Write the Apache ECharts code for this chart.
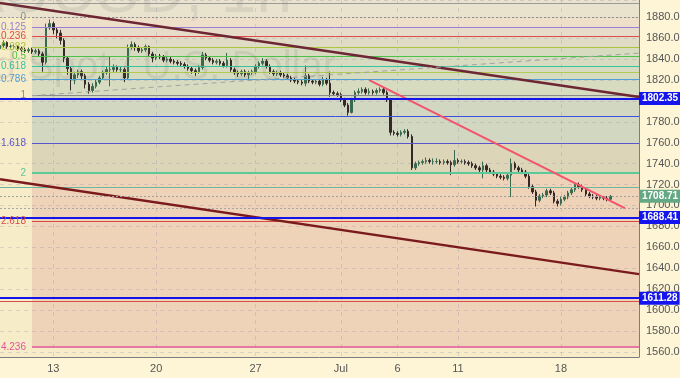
<!DOCTYPE html>
<html>
<head>
<meta charset="utf-8">
<script src="https://cdn.jsdelivr.net/npm/echarts@6/dist/echarts.min.js"></script>
<style>
  html, body { margin: 0; padding: 0; background: #fdf5d6; }
  #chart { width: 680px; height: 378px; }
</style>
</head>
<body>
<div id="chart"></div>
<script>
// XAUUSD, 4h bars (price)
const firstOpen = 1850;
const closes = [
  1853, 1856, 1852, 1852, 1852, 1850, 1849, 1848, 1849, 1847,
  1848, 1845, 1837, 1870, 1874, 1868, 1865, 1858, 1841, 1831,
  1820, 1825, 1828, 1824, 1816, 1810, 1814, 1818, 1822, 1827,
  1830, 1830, 1832, 1830, 1830, 1822, 1851, 1854, 1851, 1848,
  1849, 1852, 1845, 1841, 1843, 1842, 1839, 1840, 1838, 1837,
  1836, 1835, 1833, 1831, 1829, 1828, 1832, 1844, 1841, 1839,
  1837, 1838, 1836, 1834, 1839, 1830, 1827, 1826, 1828, 1825,
  1827, 1828, 1833, 1836, 1838, 1833, 1828, 1826, 1827, 1825,
  1824, 1822, 1820, 1819, 1818, 1817, 1824, 1819, 1818, 1819,
  1816, 1820, 1817, 1808, 1807, 1806, 1801, 1796, 1789, 1801,
  1808, 1809, 1811, 1808, 1809, 1808, 1810, 1811, 1808, 1801,
  1770, 1769, 1768, 1770, 1771, 1766, 1736, 1740, 1741, 1742,
  1743, 1742, 1742, 1742, 1741, 1742, 1741, 1739, 1743, 1742,
  1742, 1741, 1740, 1738, 1736, 1734, 1738, 1734, 1732, 1730,
  1728, 1727, 1726, 1729, 1740, 1736, 1734, 1732, 1728, 1718,
  1713, 1705, 1709, 1710, 1714, 1712, 1704, 1702, 1706, 1708,
  1712, 1715, 1720, 1718, 1715, 1711, 1709, 1708, 1707, 1708,
  1707, 1706, 1708.71
];
const highs = [
  1856, 1858, 1857, 1854, 1854, 1853, 1852, 1851, 1851, 1851,
  1850, 1850, 1847, 1874, 1878, 1876, 1870, 1868, 1860, 1843,
  1833, 1828, 1830, 1830, 1826, 1818, 1817, 1820, 1824, 1829,
  1833, 1843, 1835, 1834, 1833, 1832, 1854, 1857, 1856, 1853,
  1851, 1854, 1853, 1847, 1845, 1845, 1844, 1842, 1842, 1840,
  1839, 1838, 1837, 1835, 1833, 1831, 1834, 1847, 1846, 1843,
  1841, 1840, 1840, 1838, 1846, 1841, 1832, 1829, 1830, 1830,
  1829, 1830, 1835, 1838, 1841, 1840, 1835, 1830, 1829, 1829,
  1827, 1826, 1824, 1822, 1821, 1820, 1834, 1826, 1821, 1821,
  1821, 1823, 1822, 1828, 1810, 1809, 1808, 1803, 1798, 1803,
  1810, 1812, 1813, 1813, 1812, 1811, 1812, 1813, 1813, 1810,
  1803, 1772, 1771, 1772, 1773, 1773, 1768, 1742, 1743, 1744,
  1746, 1745, 1745, 1745, 1744, 1744, 1744, 1743, 1753, 1745,
  1744, 1744, 1743, 1742, 1740, 1738, 1742, 1740, 1736, 1734,
  1732, 1730, 1729, 1732, 1745, 1742, 1738, 1736, 1734, 1730,
  1720, 1715, 1711, 1712, 1716, 1716, 1714, 1706, 1708, 1710,
  1714, 1717, 1722, 1722, 1720, 1717, 1713, 1711, 1710, 1710,
  1709, 1709, 1710
];
const lows = [
  1848, 1851, 1850, 1850, 1850, 1848, 1847, 1846, 1846, 1845,
  1845, 1843, 1828, 1835, 1868, 1864, 1860, 1854, 1837, 1825,
  1810, 1816, 1822, 1821, 1812, 1807, 1808, 1812, 1816, 1820,
  1825, 1814, 1827, 1828, 1827, 1818, 1820, 1849, 1848, 1846,
  1846, 1847, 1843, 1837, 1839, 1840, 1837, 1837, 1836, 1835,
  1834, 1833, 1831, 1829, 1826, 1824, 1826, 1830, 1839, 1837,
  1835, 1835, 1834, 1832, 1832, 1828, 1825, 1823, 1824, 1823,
  1820, 1825, 1826, 1831, 1834, 1831, 1826, 1824, 1824, 1823,
  1822, 1820, 1818, 1817, 1816, 1815, 1814, 1817, 1816, 1816,
  1814, 1814, 1815, 1804, 1805, 1804, 1799, 1794, 1786, 1788,
  1799, 1806, 1807, 1806, 1806, 1806, 1806, 1808, 1806, 1799,
  1767, 1767, 1766, 1766, 1768, 1764, 1734, 1734, 1738, 1739,
  1740, 1740, 1739, 1740, 1739, 1739, 1739, 1729, 1737, 1740,
  1740, 1739, 1738, 1736, 1734, 1732, 1726, 1732, 1730, 1728,
  1726, 1725, 1724, 1724, 1708, 1734, 1732, 1730, 1726, 1716,
  1711, 1699, 1703, 1707, 1708, 1710, 1702, 1699, 1700, 1704,
  1706, 1710, 1713, 1716, 1713, 1709, 1707, 1706, 1705, 1705,
  1705, 1704, 1705
];
// continuous market: each bar opens at the previous close
const opens = [firstOpen].concat(closes.slice(0, -1));

// x axis: bar slots and the date labels that sit on them
const slotCount = 181;
const dateTicks = { 15: '13', 44: '20', 72: '27', 96: 'Jul', 112: '6', 129: '11', 158: '18' };

// fibonacci retracement drawn from bar 9
const fibStart = 9;
const fibLabels = ['0', '0.125', '0.236', '0.382', '0.5', '0.618', '', '0.786', '1', '', '1.618', '2', '2.618', '4.236'];
const fibPrices = [1880.0, 1870.2, 1862.1, 1851.1, 1842.5, 1833.6, 1827.4, 1821.0, 1805.0, 1785.3, 1759.6, 1731.2, 1685.2, 1564.8];

// horizontal lines across the whole chart
const hLinePrices = [1893.9, 1880.0, 1717.3, 1697.0, 1608.2];
const tagPrices = [1802.35, 1688.41, 1611.28];
const lastPrice = 1708.71;

// trend lines [bar, price] -> [bar, price]
const trendLines = [
  [[0, 1893.7], [180, 1803.7]],
  [[0, 1725.2], [180, 1634.3]],
  [[9, 1805.0], [180, 1845.8]],
  [[104, 1820.0], [176, 1697.5]]
];

// styles
const fibColors = ['#8c8c8c', '#9b7fd4', '#df4b4b', '#a9c63d', '#4cc24a', '#36c3a0', '#b0cc55', '#4f9fd6', '#8a8a8a', '#3b4fe0', '#5a55cc', '#5cc99a', '#d64a4a', '#e0559a'];
const fibWidths = [1, 1, 1, 1, 1, 1, 1, 1, 1, 1, 1, 2, 1, 1.5];
const fibFill = ['#eedfcb', '#e7dcc9', '#dfdbc4', '#d7dbc0', '#d2d7c2', '#dcd5b8', '#eed3b8'];
const hLineStyles = [
  { color: '#9a9a9a', width: 1, type: 'solid' },
  { color: '#9a9a9a', width: 1, type: [2, 2] },
  { color: '#6db89c', width: 1, type: 'solid' },
  { color: '#a7a7a7', width: 1, type: [2, 2] },
  { color: '#d65050', width: 1, type: 'solid' }
];
const trendStyles = [
  { color: '#6d2633', width: 2.5, type: 'solid' },
  { color: '#7b1a1c', width: 2.5, type: 'solid' },
  { color: '#a3a3a3', width: 1, type: [5, 4] },
  { color: '#f2536d', width: 2, type: 'solid' }
];

const categories = [];
for (let i = 0; i < slotCount; i++) categories.push(String(i));

const candles = closes.map((c, i) => [opens[i], c, lows[i], highs[i]]);

const fibLines = fibPrices.map((p, i) => [
  {
    coord: [fibStart, p],
    lineStyle: { color: fibColors[i], width: fibWidths[i], type: i === 0 ? [2, 2] : 'solid' },
    label: {
      show: fibLabels[i] !== '',
      position: 'start',
      distance: 6,
      formatter: fibLabels[i],
      color: fibColors[i],
      fontSize: 10,
      fontFamily: 'Liberation Sans'
    }
  },
  { coord: [slotCount - 1, p] }
]);

const fibZones = [[1880.0, 1870.2], [1870.2, 1862.1], [1862.1, 1851.1], [1851.1, 1805.0], [1805.0, 1759.6], [1759.6, 1731.2], [1731.2, 1564.8]];
const fibAreas = fibZones.map((z, i) => [
  { xAxis: fibStart, yAxis: z[0], itemStyle: { color: fibFill[i] } },
  { xAxis: slotCount - 1, yAxis: z[1] }
]);
fibAreas.unshift([
  { xAxis: 0, yAxis: 1896.6, itemStyle: { color: '#e9e3cd' } },
  { xAxis: slotCount - 1, yAxis: 1880.0 }
]);

const fullLines = hLinePrices.map((p, i) => ({
  yAxis: p,
  lineStyle: hLineStyles[i],
  label: { show: false }
}));

const tagLabel = (text, bg) => ({
  show: true,
  position: 'end',
  distance: 0,
  formatter: text,
  color: '#fff',
  backgroundColor: bg,
  padding: [2, 2, 1, 3],
  fontSize: 10,
  fontWeight: 'bold',
  fontFamily: 'Liberation Sans Narrow, Liberation Sans'
});

const tagLines = tagPrices.map((p) => ({
  yAxis: p,
  lineStyle: { color: '#1414ee', width: 2, type: 'solid' },
  label: tagLabel(p.toFixed(2), '#1414ee')
}));

const lastLine = {
  yAxis: lastPrice,
  lineStyle: { color: '#a0a0a0', width: 1, type: [2, 2] },
  label: tagLabel(lastPrice.toFixed(2), '#64a883')
};

const trends = trendLines.map((t, i) => [
  { coord: t[0], lineStyle: trendStyles[i], label: { show: false } },
  { coord: t[1] }
]);

const chart = echarts.init(document.getElementById('chart'));
chart.setOption({
  animation: false,
  backgroundColor: '#fdf5d6',
  textStyle: { fontFamily: 'Liberation Sans' },
  graphic: [
    {
      type: 'text', x: 292, y: 26, z: 100, silent: true,
      style: { text: 'XAUUSD, 1h', font: '64px "Liberation Sans"', fill: 'rgba(110,110,110,0.13)', textAlign: 'right', textVerticalAlign: 'bottom' }
    },
    {
      type: 'text', x: 336, y: 88, z: 100, silent: true,
      style: { text: 'Gold Spot / U.S. Dollar', font: '40px "Liberation Sans"', fill: 'rgba(110,110,110,0.13)', textAlign: 'right', textVerticalAlign: 'bottom' }
    }
  ],
  grid: {
    left: 0, right: 41, top: 0, bottom: 21,
    outerBoundsMode: 'none',
    containLabel: false,
    show: true, backgroundColor: '#f7ecc8', borderWidth: 0
  },
  xAxis: {
    type: 'category',
    data: categories,
    boundaryGap: false,
    z: 1.5,
    axisLine: { show: true, lineStyle: { color: '#7d7d7d' } },
    axisTick: { show: false },
    axisLabel: {
      color: '#555',
      fontSize: 11,
      margin: 6,
      interval: (idx) => dateTicks[idx] !== undefined,
      formatter: (v) => dateTicks[v] || ''
    },
    splitLine: {
      show: true,
      interval: (idx) => dateTicks[idx] !== undefined,
      lineStyle: { color: 'rgba(120,120,170,0.22)', type: [4, 4] }
    }
  },
  yAxis: {
    type: 'value',
    position: 'right',
    min: 1555,
    max: 1896.6,
    splitNumber: 17,
    z: 1.5,
    axisLine: { show: true, lineStyle: { color: '#7d7d7d' } },
    axisTick: { show: false },
    axisLabel: {
      color: '#555',
      fontSize: 11,
      margin: 7,
      formatter: (v) => (Math.abs(v % 20) < 1e-6 ? v.toFixed(2) : '')
    },
    splitLine: {
      show: true,
      lineStyle: { color: 'rgba(120,120,170,0.22)', type: [4, 4] }
    }
  },
  series: [
    {
      type: 'candlestick',
      data: candles,
      barWidth: 2,
      z: 3,
      itemStyle: {
        color: '#3a6a4d',
        color0: '#352828',
        borderColor: '#3a6a4d',
        borderColor0: '#352828',
        borderWidth: 1
      },
      markArea: {
        silent: true,
        z: 1,
        data: fibAreas
      },
      markLine: {
        silent: true,
        symbol: 'none',
        animation: false,
        z: 5,
        data: fullLines.concat(fibLines, trends, [lastLine], tagLines)
      }
    }
  ]
});
</script>
</body>
</html>
